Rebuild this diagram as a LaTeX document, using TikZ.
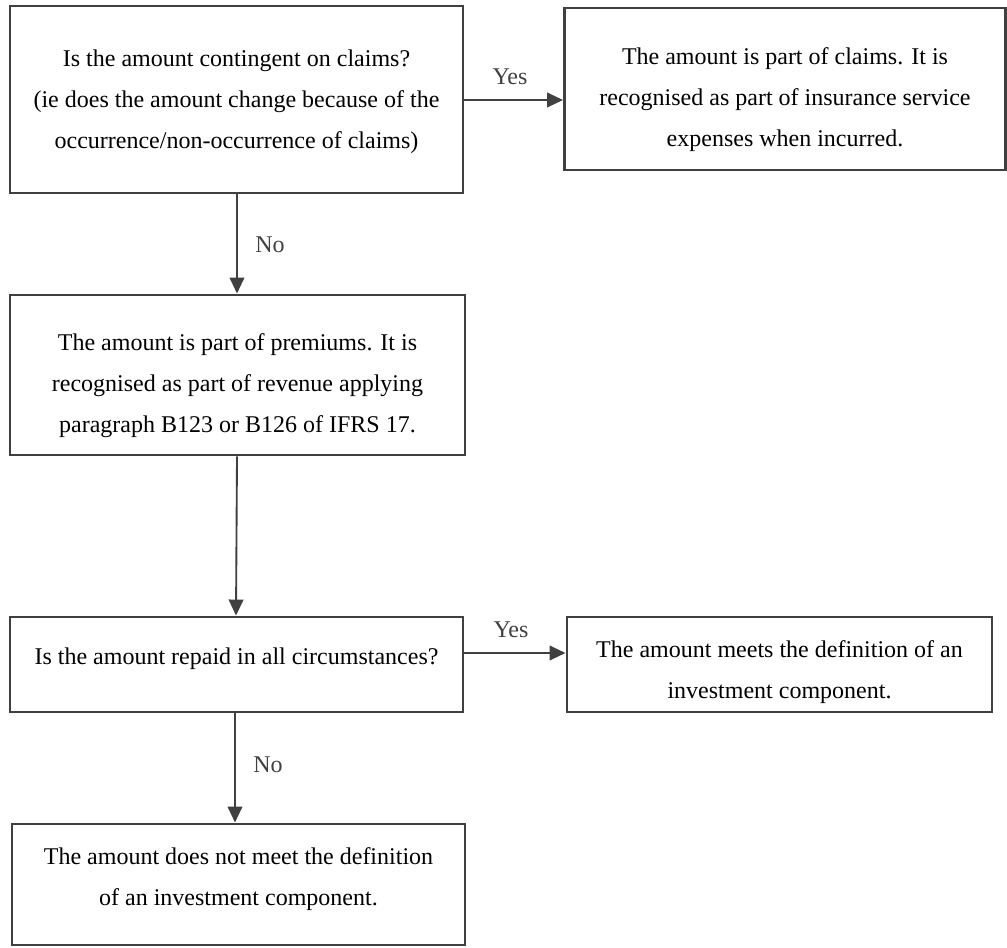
\documentclass[tikz,border=0pt]{standalone}
\usepackage{fontspec}
\setmainfont{Liberation Serif}
\usepackage{tikz}
\usetikzlibrary{arrows.meta}

\definecolor{edge}{HTML}{404040}

\tikzset{
  box/.style={draw=edge, line width=2.2pt, inner sep=0pt},
  boxtext/.style={align=center, inner sep=0pt, font=\fontsize{18}{30.75}\selectfont},
  link/.style={draw=edge, line width=1.4pt, -{Triangle[length=12pt,width=11pt]}},
  answer/.style={text=edge, font=\fontsize{18}{20}\selectfont}
}

\begin{document}
\begin{tikzpicture}[x=0.75pt,y=-0.75pt]
\useasboundingbox (0,0) rectangle (1007,948);
% boxes
\node[box, minimum width=339.75pt, minimum height=140.25pt] (claims) at (236.5,99.5) {};
\node[box, minimum width=330.75pt, minimum height=121.5pt] (expense) at (785,89) {};
\node[box, minimum width=341.25pt, minimum height=120pt] (premium) at (237.5,375) {};
\node[box, minimum width=339.75pt, minimum height=71.25pt] (repaid) at (236.5,664.5) {};
\node[box, minimum width=318.75pt, minimum height=71.25pt] (invest) at (779.5,664.5) {};
\node[box, minimum width=339.75pt, minimum height=90.75pt] (noinvest) at (238.5,884.5) {};
% texts
\node[boxtext] (claimstext) at ([yshift=-1.5pt]claims.center)
  {Is the amount contingent on claims?\\(ie does the amount change because of the\\occurrence/non-occurrence of claims)};
\node[boxtext] (expensetext) at ([yshift=-8pt]expense.center)
  {The amount is part of claims. It is\\recognised as part of insurance service\\expenses when incurred.};
\node[boxtext] (premiumtext) at ([yshift=-8pt]premium.center)
  {The amount is part of premiums. It is\\recognised as part of revenue applying\\paragraph B123 or B126 of IFRS 17.};
\node[boxtext] (repaidtext) at ([yshift=4.5pt]repaid.center)
  {Is the amount repaid in all circumstances?};
\node[boxtext] (investtext) at ([yshift=-6pt]invest.center)
  {The amount meets the definition of an\\investment component.};
\node[boxtext] (noinvesttext) at ([yshift=3.75pt]noinvest.center)
  {The amount does not meet the definition\\of an investment component.};
% arrows
\draw[link] (claims.east |- 0,100) -- (expense.west |- 0,100);
\draw[link] (claims.south -| 237,0) -- (premium.north -| 237,0);
\draw[link] (premium.south -| 237,0) -- (repaid.north -| 236,0);
\draw[link] (repaid.east |- 0,653) -- (invest.west |- 0,653);
\draw[link] (repaid.south -| 235,0) -- (noinvest.north -| 235,0);
% labels
\node[answer] (yes1) at (510,77) {Yes};
\node[answer] (no1) at (270,245) {No};
\node[answer] (yes2) at (511,630) {Yes};
\node[answer] (no2) at (268,765) {No};
\end{tikzpicture}
\end{document}
